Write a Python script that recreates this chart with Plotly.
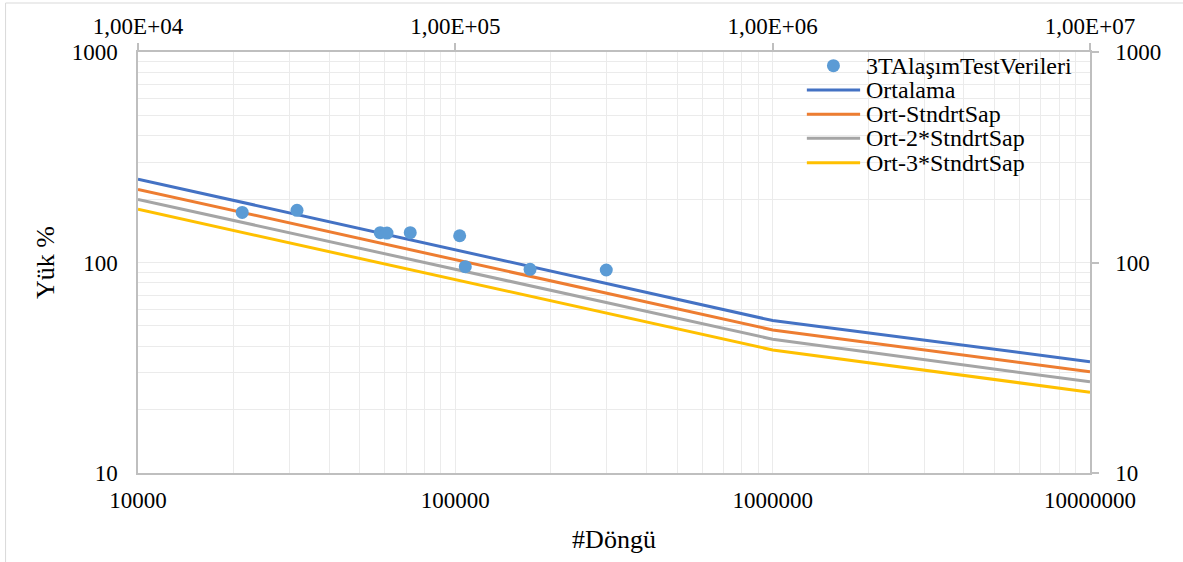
import plotly.graph_objects as go

# Fatigue test data: load (%) versus number of cycles
test_cycles = [21300, 31700, 58000, 60900, 72100, 103200, 107500, 172000, 299000]
test_load = [173, 177, 138.6, 138, 138.6, 134, 95.5, 92.8, 92.1]

curve_cycles = [10000, 1000000, 10000000]
mean_curve = [249, 53, 33.8]
minus_1sd = [222.5, 47.8, 30.3]
minus_2sd = [199.5, 43.2, 27.1]
minus_3sd = [179, 38.4, 24.2]

series_names = ["3TAlaşımTestVerileri", "Ortalama", "Ort-StndrtSap",
                "Ort-2*StndrtSap", "Ort-3*StndrtSap"]
curve_colors = ["#4472C4", "#ED7D31", "#A5A5A5", "#FFC000"]
marker_color = "#5B9BD5"

x_ticks = [10000, 100000, 1000000, 10000000]
x_tick_text = ["10000", "100000", "1000000", "10000000"]
x_top_text = ["1,00E+04", "1,00E+05", "1,00E+06", "1,00E+07"]
y_ticks = [10, 100, 1000]
y_tick_text = ["10", "100", "1000"]

FONT = "Liberation Serif"
TICK_SIZE = 23
LEGEND_SIZE = 24
TITLE_SIZE = 26
GRID = "#ebebeb"
AXIS = "#bfbfbf"

W, H = 1183, 562
L, R, T, B = 137.5, 1090, 52, 473  # plot area in pixels


def px(xpix):
    return (xpix - L) / (R - L)


def py(ypix):
    return (B - ypix) / (B - T)


fig = go.Figure()

curves = [mean_curve, minus_1sd, minus_2sd, minus_3sd]
for name, vals, col in zip(series_names[1:], curves, curve_colors):
    fig.add_trace(go.Scatter(x=curve_cycles, y=vals, mode="lines", name=name,
                             line=dict(color=col, width=3), showlegend=False))

fig.add_trace(go.Scatter(x=test_cycles, y=test_load, mode="markers",
                         name=series_names[0], showlegend=False,
                         marker=dict(color=marker_color, size=13)))

# empty trace so the secondary (top/right) axes get drawn
fig.add_trace(go.Scatter(x=[], y=[], xaxis="x2", yaxis="y2", showlegend=False,
                         hoverinfo="skip"))

base_axis = dict(type="log", showline=True, linecolor=AXIS, linewidth=1.5,
                 zeroline=False, tickfont=dict(family=FONT, size=TICK_SIZE, color="#000"))

fig.update_layout(
    width=W, height=H,
    margin=dict(l=L, r=W - R, t=T, b=H - B),
    paper_bgcolor="white", plot_bgcolor="white",
    font=dict(family=FONT, color="#000"),
    xaxis=dict(**base_axis, range=[4, 7], tickvals=x_ticks, ticktext=x_tick_text,
               showgrid=True, gridcolor=GRID, gridwidth=1.3, ticks="",
               ticklabelstandoff=6,
               minor=dict(dtick="D1", showgrid=True, gridcolor=GRID, gridwidth=1.3, ticks=""),
               title=dict(text="#Döngü", font=dict(family=FONT, size=TITLE_SIZE), standoff=17)),
    yaxis=dict(**base_axis, range=[1, 3], tickvals=y_ticks, ticktext=y_tick_text,
               showgrid=True, gridcolor=GRID, gridwidth=1.3, ticks="",
               ticklabelstandoff=14,
               minor=dict(dtick="D1", showgrid=True, gridcolor=GRID, gridwidth=1.3, ticks=""),
               title=dict(text="Yük %", font=dict(family=FONT, size=TITLE_SIZE), standoff=10)),
    xaxis2=dict(**base_axis, range=[4, 7], overlaying="x", side="top", anchor="y2",
                tickvals=x_ticks, ticktext=x_top_text, showgrid=False,
                ticks="outside", ticklen=7, tickcolor=AXIS, tickwidth=1.5),
    yaxis2=dict(**base_axis, range=[1, 3], overlaying="y", side="right", anchor="x2",
                tickvals=y_ticks, ticktext=y_tick_text, showgrid=False,
                ticks="outside", ticklen=7, tickcolor=AXIS, tickwidth=1.5,
                ticklabelstandoff=12),
)

# chart-area border
fig.add_shape(type="rect", xref="paper", yref="paper",
              x0=px(5), x1=px(1200), y0=py(3), y1=py(600),
              line=dict(color="#d9d9d9", width=1), layer="below")

# legend block
row_y = [65.7, 90, 114.3, 138.3, 162.7]
sample_x0, sample_x1, text_x = 806.7, 860, 864
fig.add_shape(type="circle", xref="paper", yref="paper",
              x0=px(833.3 - 6.5), x1=px(833.3 + 6.5),
              y0=py(row_y[0] + 6.5), y1=py(row_y[0] - 6.5),
              fillcolor=marker_color, line=dict(width=0))
for yy, col in zip(row_y[1:], curve_colors):
    fig.add_shape(type="line", xref="paper", yref="paper",
                  x0=px(sample_x0), x1=px(sample_x1), y0=py(yy), y1=py(yy),
                  line=dict(color=col, width=3))
for yy, name in zip(row_y, series_names):
    fig.add_annotation(xref="paper", yref="paper", x=px(text_x), y=py(yy),
                       text=name, showarrow=False, xanchor="left", yanchor="middle",
                       font=dict(family=FONT, size=LEGEND_SIZE, color="#000"))

fig.write_html("out.html")
